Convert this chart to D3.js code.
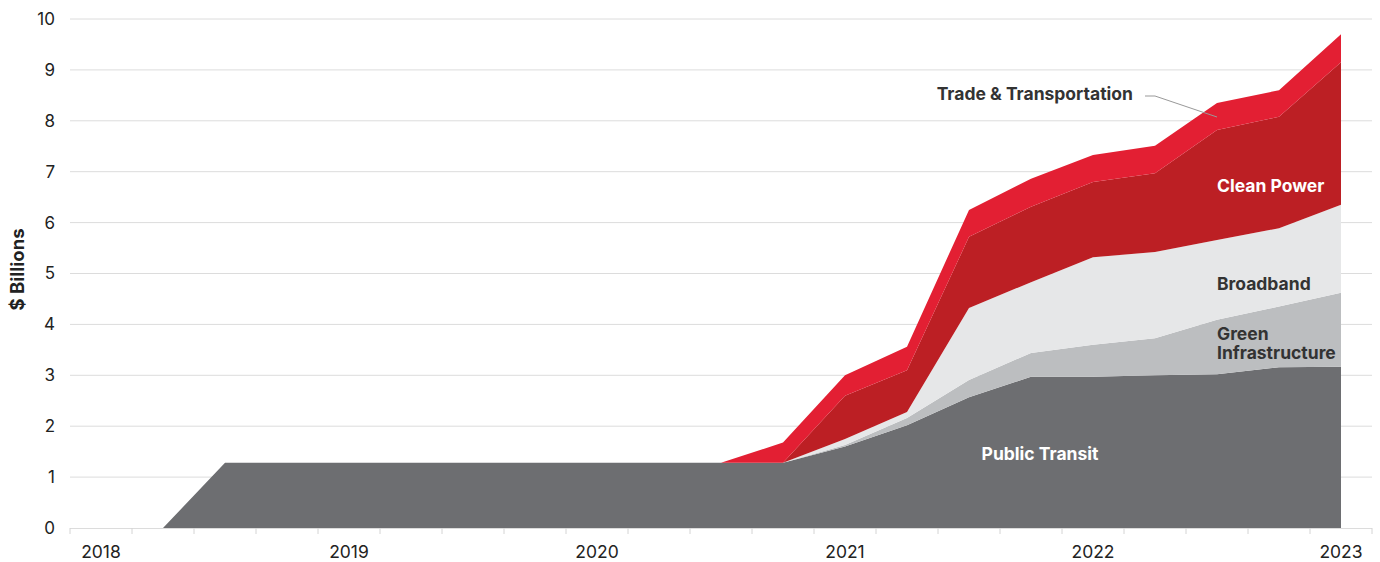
<!DOCTYPE html>
<html>
<head>
<meta charset="utf-8">
<script src="https://cdn.jsdelivr.net/npm/d3@7"></script>
<style>
  body { margin: 0; background: #fff; }
  svg { display: block; font-family: Inter, "Noto Sans", sans-serif; }
</style>
</head>
<body>
<svg id="chart"></svg>
<script>
// quarterly categories, label shown on Q1
const quarters = [
  "2018 Q1", "2018 Q2", "2018 Q3", "2018 Q4",
  "2019 Q1", "2019 Q2", "2019 Q3", "2019 Q4",
  "2020 Q1", "2020 Q2", "2020 Q3", "2020 Q4",
  "2021 Q1", "2021 Q2", "2021 Q3", "2021 Q4",
  "2022 Q1", "2022 Q2", "2022 Q3", "2022 Q4",
  "2023 Q1"
];
const yearLabels = ["2018", "2019", "2020", "2021", "2022", "2023"];
const yTicks = [0, 1, 2, 3, 4, 5, 6, 7, 8, 9, 10];

const publicTransit = [0, 0, 1.28, 1.28, 1.28, 1.28, 1.28, 1.28, 1.28, 1.28, 1.28, 1.28, 1.6, 2.02, 2.57, 2.97, 2.97, 3.0, 3.02, 3.16, 3.17];
const greenInfra    = [0, 0, 0, 0, 0, 0, 0, 0, 0, 0, 0, 0, 0.03, 0.14, 0.34, 0.47, 0.63, 0.73, 1.07, 1.19, 1.45];
const broadband     = [0, 0, 0, 0, 0, 0, 0, 0, 0, 0, 0, 0, 0.12, 0.12, 1.41, 1.39, 1.72, 1.69, 1.57, 1.54, 1.73];
const cleanPower    = [0, 0, 0, 0, 0, 0, 0, 0, 0, 0, 0, 0, 0.85, 0.82, 1.40, 1.48, 1.48, 1.55, 2.16, 2.19, 2.8];
const tradeTransport = [0, 0, 0, 0, 0, 0, 0, 0, 0, 0, 0, 0.4, 0.4, 0.46, 0.53, 0.55, 0.53, 0.54, 0.53, 0.52, 0.55];

const keys = ["Public Transit", "Green Infrastructure", "Broadband", "Clean Power", "Trade & Transportation"];
const colors = ["#6d6e71", "#bcbec0", "#e6e7e8", "#bc1f24", "#e31f33"];

const width = 1380, height = 562;
const margin = { top: 19, right: 8, bottom: 34, left: 70 };

const rows = quarters.map((q, i) => ({
  q,
  "Public Transit": publicTransit[i],
  "Green Infrastructure": greenInfra[i],
  "Broadband": broadband[i],
  "Clean Power": cleanPower[i],
  "Trade & Transportation": tradeTransport[i]
}));

const svg = d3.select("#chart").attr("width", width).attr("height", height);

const x = d3.scaleBand()
  .domain(quarters)
  .range([margin.left, width - margin.right])
  .padding(0);

const y = d3.scaleLinear()
  .domain([0, 10])
  .range([height - margin.bottom, margin.top]);

const cx = q => x(q) + x.bandwidth() / 2;

// gridlines
svg.append("g")
  .selectAll("line")
  .data(yTicks.filter(d => d > 0))
  .join("line")
  .attr("x1", margin.left)
  .attr("x2", width - margin.right)
  .attr("y1", d => y(d))
  .attr("y2", d => y(d))
  .attr("stroke", "#dcdcdc")
  .attr("stroke-width", 1);

// stacked areas
const series = d3.stack().keys(keys)(rows);

const area = d3.area()
  .x(d => cx(d.data.q))
  .y0(d => y(d[0]))
  .y1(d => y(d[1]));

svg.append("g")
  .selectAll("path")
  .data(series)
  .join("path")
  .attr("d", area)
  .attr("fill", (d, i) => colors[i]);

// x axis line + ticks at quarter boundaries
const axisY = y(0);
svg.append("line")
  .attr("x1", margin.left)
  .attr("x2", width - margin.right)
  .attr("y1", axisY + 0.5)
  .attr("y2", axisY + 0.5)
  .attr("stroke", "#dcdcdc");

const boundaries = quarters.map(q => x(q)).concat([x.range()[1]]);
svg.append("g")
  .selectAll("line")
  .data(boundaries)
  .join("line")
  .attr("x1", d => d)
  .attr("x2", d => d)
  .attr("y1", axisY)
  .attr("y2", axisY + 6)
  .attr("stroke", "#d4d4d4");

svg.append("g")
  .selectAll("text")
  .data(yearLabels)
  .join("text")
  .attr("x", d => cx(d + " Q1"))
  .attr("y", axisY + 30)
  .attr("text-anchor", "middle")
  .attr("font-size", 17.5)
  .attr("fill", "#222")
  .text(d => d);

// y tick labels
svg.append("g")
  .selectAll("text")
  .data(yTicks)
  .join("text")
  .attr("x", 55)
  .attr("y", d => y(d))
  .attr("dy", "0.35em")
  .attr("text-anchor", "end")
  .attr("font-size", 17)
  .attr("fill", "#222")
  .text(d => d);

svg.append("text")
  .attr("transform", `translate(24, ${(margin.top + height - margin.bottom) / 2 - 4}) rotate(-90)`)
  .attr("text-anchor", "middle")
  .attr("font-size", 18.5)
  .attr("font-weight", 700)
  .attr("fill", "#222")
  .text("$ Billions");

// series labels
const lbl = (txt, xPos, yPos, fill, anchor = "start") =>
  svg.append("text")
    .attr("x", xPos)
    .attr("y", yPos)
    .attr("dy", "0.35em")
    .attr("text-anchor", anchor)
    .attr("font-size", 17.5)
    .attr("font-weight", 700)
    .attr("fill", fill)
    .text(txt);

lbl("Trade & Transportation", 1133, 94, "#333", "end");
lbl("Clean Power", 1217, 186, "#fff");
lbl("Broadband", 1217, 284, "#333");
lbl("Green", 1217, 334, "#333");
lbl("Infrastructure", 1217, 353, "#333");
lbl("Public Transit", 1040, 454, "#fff", "middle");

svg.append("path")
  .attr("d", d3.line()([[1145, 96], [1155, 96], [1217, 117]]))
  .attr("fill", "none")
  .attr("stroke", "#999")
  .attr("stroke-width", 1);
</script>
</body>
</html>
